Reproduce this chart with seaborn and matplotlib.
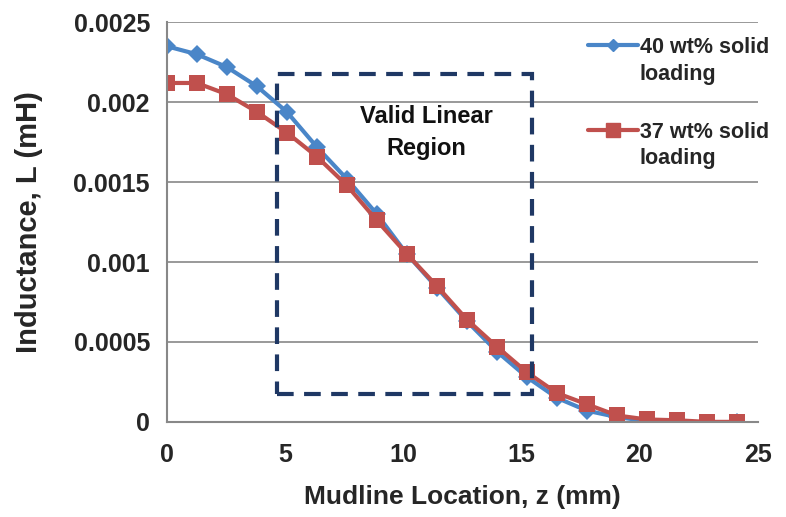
import seaborn as sns
import pandas as pd
import matplotlib.pyplot as plt
from matplotlib.patches import Rectangle
from matplotlib.lines import Line2D
from matplotlib.ticker import FuncFormatter

# Data (z step of 1.27 mm)
z_mm = [0, 1.27, 2.54, 3.81, 5.08, 6.35, 7.62, 8.89, 10.16, 11.43,
        12.7, 13.97, 15.24, 16.51, 17.78, 19.05, 20.32, 21.59, 22.86, 24.13]
L_40wt = [0.00235, 0.0023, 0.00222, 0.0021, 0.00194, 0.00172, 0.00152, 0.0013, 0.00105, 0.00084,
          0.00063, 0.00044, 0.00028, 0.00015, 0.00007, 0.00003, 0.000005, -0.00002, -0.00001, 0.0]
L_37wt = [0.00212, 0.00212, 0.00205, 0.00194, 0.00181, 0.00166, 0.00148, 0.00126, 0.00105, 0.00085,
          0.00064, 0.00047, 0.00031, 0.00018, 0.00011, 0.00004, 0.000015, 0.00001, 0.0, 0.0]
labels = ['40 wt% solid\nloading', '37 wt% solid\nloading']
y_ticks = [0, 0.0005, 0.001, 0.0015, 0.002, 0.0025]
x_ticks = [0, 5, 10, 15, 20, 25]

df = pd.DataFrame({'z': z_mm * 2,
                   'L': L_40wt + L_37wt,
                   'series': [labels[0]] * len(z_mm) + [labels[1]] * len(z_mm)})

sns.set_style('white')
plt.rcParams['font.family'] = ['Liberation Sans', 'DejaVu Sans']
plt.rcParams['font.weight'] = 'bold'

fig = plt.figure(figsize=(7.86, 5.17), dpi=100)
ax = fig.add_axes([0.212, 0.184, 0.752, 0.773])

sns.lineplot(data=df, x='z', y='L', hue='series', style='series',
             palette=['#4A86C8', '#C0504D'], markers=['D', 's'], dashes=False,
             markersize=9, linewidth=3, markeredgewidth=0, ax=ax, legend=False)
# bigger squares for the red series
ax.lines[1].set_markersize(12)

# the dashed "valid linear region" box
ax.add_patch(Rectangle((4.66, 0.000175), 15.46 - 4.66, 0.002175 - 0.000175,
                       fill=False, edgecolor='#1F3864', linestyle=(0, (4, 2.5)),
                       linewidth=3, zorder=5))
ax.text(11.0, 0.00181, 'Valid Linear\nRegion', ha='center', va='center',
        fontsize=17, fontweight='bold', color='#111111', linespacing=1.5)

ax.set_xlim(0, 25)
ax.set_ylim(0, 0.0025)
ax.set_xticks(x_ticks)
ax.set_yticks(y_ticks)
ax.yaxis.set_major_formatter(FuncFormatter(lambda v, p: '%g' % v))
ax.tick_params(labelsize=18, length=6, color='#888888', width=1.5, direction='out')
ax.tick_params(axis='x', pad=9)
ax.tick_params(axis='y', pad=6)
ax.grid(axis='y', color='#888888', linewidth=1.2)
for side in ['top', 'right']:
    ax.spines[side].set_visible(False)
for side in ['left', 'bottom']:
    ax.spines[side].set_color('#888888')
    ax.spines[side].set_linewidth(1.5)

ax.set_xlabel('Mudline Location, z (mm)', fontsize=19, fontweight='bold', labelpad=13)
ax.set_ylabel('Inductance, L (mH)', fontsize=21, fontweight='bold', labelpad=22)

# legend: handle sits beside the first line of each two-line label
handles = [Line2D([], [], color='#4A86C8', marker='D', markersize=6, linewidth=3),
           Line2D([], [], color='#C0504D', marker='s', markersize=10, linewidth=3)]
leg = ax.legend(handles, labels, loc='upper left', bbox_to_anchor=(0.695, 1.03),
                frameon=False, fontsize=15.5, labelspacing=1.73, handlelength=2.3,
                handletextpad=0.1, borderpad=0)
for t in leg.get_texts():
    t.set_fontweight('bold')
    t.set_linespacing(1.35)
    t.set_position((0, -16))

fig.savefig('out.png', dpi=100)
